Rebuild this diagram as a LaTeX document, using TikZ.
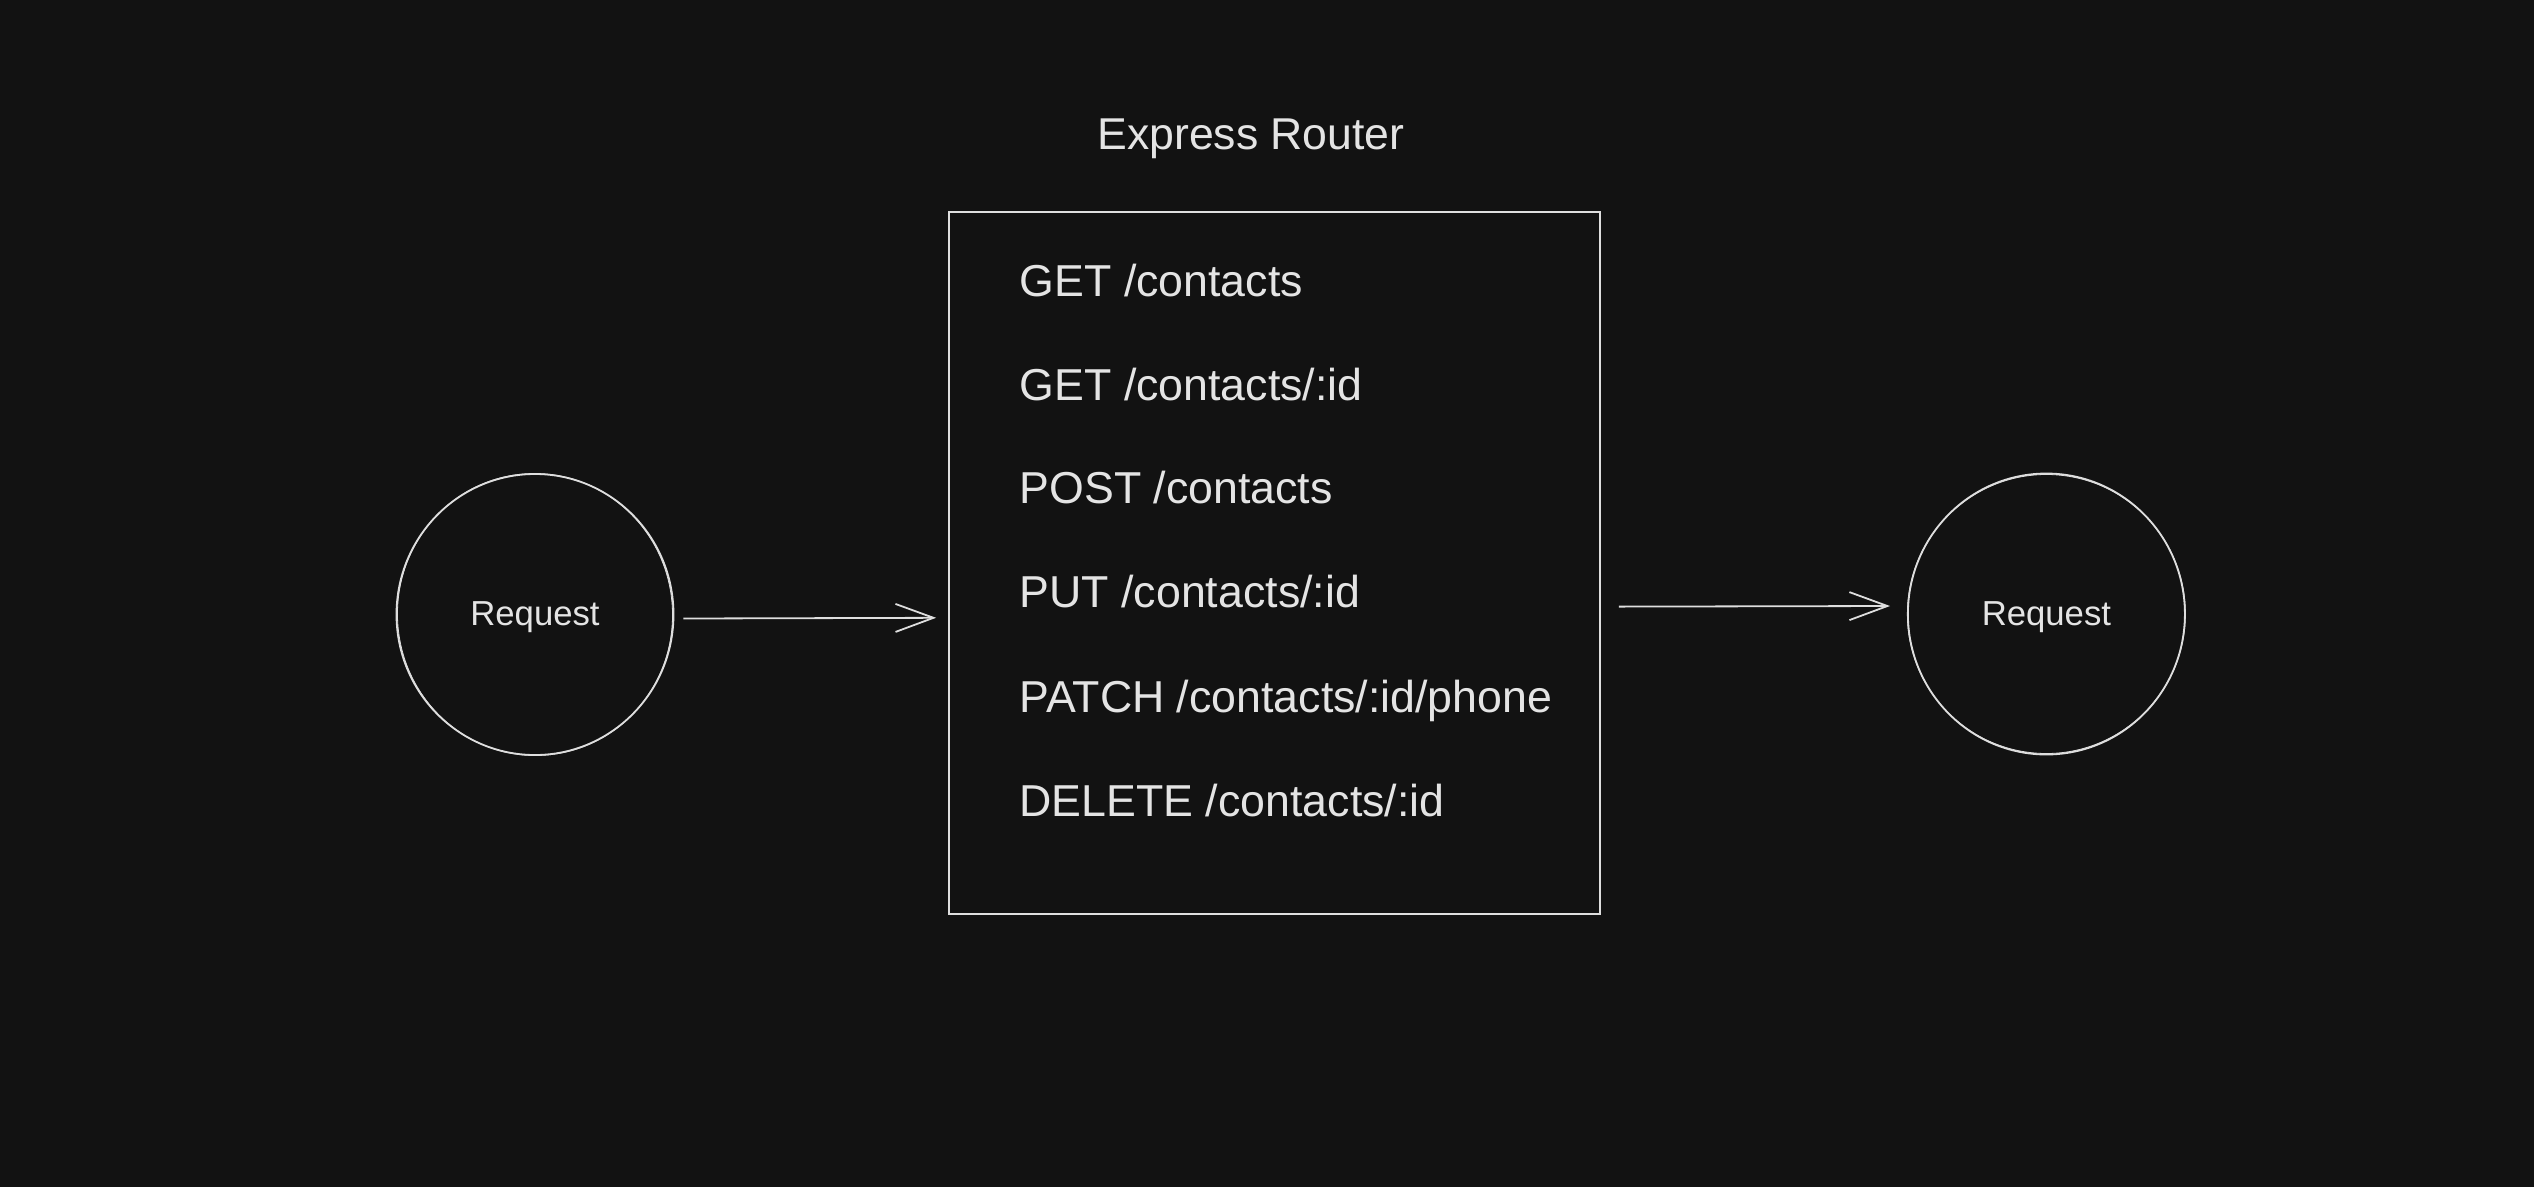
\documentclass[tikz,border=0pt]{standalone}
\usepackage{fontspec}
\setmainfont{Liberation Sans}
\usetikzlibrary{arrows.meta,shapes.geometric}
\definecolor{bg}{RGB}{18,18,18}
\definecolor{ink}{RGB}{222,222,222}
\definecolor{txt}{RGB}{228,228,228}
\tikzset{
  stroke/.style={draw=ink, line width=1.8pt},
  bubble/.style={stroke, ellipse, minimum width=277pt, minimum height=281pt, inner sep=0pt},
  bubbletext/.style={anchor=base, inner sep=0pt, text=txt, font=\fontsize{34.7}{40}\selectfont},
  routerbox/.style={stroke, rectangle, minimum width=651pt, minimum height=702pt, inner sep=0pt},
  routetext/.style={anchor=base west, inner sep=0pt, text=txt, font=\fontsize{44.7}{52}\selectfont},
  titletext/.style={anchor=base, inner sep=0pt, text=txt, font=\fontsize{44.6}{52}\selectfont},
  flow/.style={draw=ink, line width=1.8pt, -{Straight Barb[length=38pt,width=28pt,line width=1.8pt]}},
}
\begin{document}
\begin{tikzpicture}[x=1pt,y=-1pt]
\fill[bg] (0,0) rectangle (2534,1187);
\useasboundingbox (0,0) rectangle (2534,1187);
% nodes
\node[routerbox] (router) at (1274.5,563.3) {};
\node[titletext] (title) at (1251,149) {Express Router};
\node[routetext] (r1) at (1019.5,296) {GET /contacts};
\node[routetext] (r2) at (1019.5,400) {GET /contacts/:id};
\node[routetext] (r3) at (1019.5,503.5) {POST /contacts};
\node[routetext] (r4) at (1019.5,607.5) {PUT /contacts/:id};
\node[routetext] (r5) at (1019.5,712) {PATCH /contacts/:id/phone};
\node[routetext] (r6) at (1019.5,816) {DELETE /contacts/:id};
\node[bubble] (req1) at (535,614.5) {};
\node[bubble] (req2) at (2046.4,614) {};
\node[bubbletext] (req1label) at (535,625) {Request};
\node[bubbletext] (req2label) at (2046.4,625) {Request};
% sketchy second strokes
\draw[ink, line width=0.8pt, rotate around={4:(req1.center)}] (req1.center) ellipse [x radius=137.5pt, y radius=141pt];
\draw[ink, line width=0.8pt, rotate around={-5:(req2.center)}] (req2.center) ellipse [x radius=139pt, y radius=139.5pt];
% connectors
\draw[flow] ([shift={(9,4)}]req1.east) -- ([shift={(-12,54.5)}]router.west);
\draw[flow] ([shift={(18,43.3)}]router.east) -- ([shift={(-17,-8)}]req2.west);
\end{tikzpicture}
\end{document}
